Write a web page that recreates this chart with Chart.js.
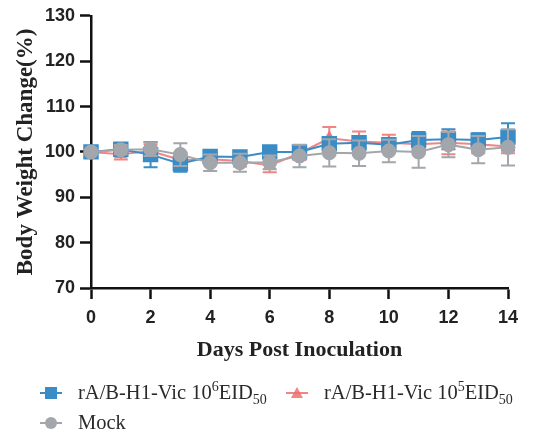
<!DOCTYPE html>
<html>
<head>
<meta charset="utf-8">
<script src="https://cdn.jsdelivr.net/npm/chart.js@4.4.1/dist/chart.umd.min.js"></script>
<style>
  body { margin: 0; background: #fff; }
  #wrap { position: relative; width: 540px; height: 432px; }
  #legend { position: absolute; left: 0; top: 0; width: 540px; height: 432px; pointer-events: none;
            font-family: "Liberation Serif", "Times New Roman", serif; font-size: 20.5px; color: #2a2a2a; }
  .item { position: absolute; display: flex; align-items: center; white-space: nowrap; }
  .item svg { margin-right: 16px; }
  sup, sub { font-size: 14px; line-height: 0; }
</style>
</head>
<body>
<div id="wrap">
  <canvas id="bwChart" width="540" height="432"></canvas>
  <div id="legend"></div>
</div>
<script>
// days post inoculation
const days = [0, 1, 2, 3, 4, 5, 6, 7, 8, 9, 10, 11, 12, 13, 14];

// rA/B-H1-Vic 10^6 EID50
const highDoseMean = [100, 100.6, 99.4, 97.4, 99.0, 98.9, 100.0, 100.0, 101.8, 102.0, 101.6, 102.6, 102.8, 102.6, 103.3];
const highDoseSd   = [0, 0.8, 2.8, 1.8, 0.8, 0.8, 0.8, 0.8, 1.2, 1.5, 1.2, 1.8, 2.2, 1.5, 3.0];

// rA/B-H1-Vic 10^5 EID50
const lowDoseMean = [100, 99.5, 100.2, 98.2, 98.4, 98.0, 97.0, 99.7, 103.0, 102.3, 102.0, 101.7, 102.0, 101.7, 101.2];
const lowDoseSd   = [0, 1.2, 1.5, 1.5, 1.0, 1.2, 1.5, 1.5, 2.5, 2.2, 1.8, 1.5, 2.5, 2.0, 1.5];

// Mock
const mockMean = [100, 100.5, 100.6, 99.4, 97.6, 97.6, 97.7, 99.1, 99.8, 99.7, 100.2, 100.0, 101.6, 100.5, 101.0];
const mockSd   = [0, 1.0, 1.5, 2.5, 1.8, 2.0, 1.5, 2.5, 3.0, 2.8, 2.5, 3.5, 2.8, 3.0, 4.0];

const BLUE = "#3a8cc6";
const RED = "rgba(240,110,110,0.85)";
const GRAY = "#a3a6ab";

function toPoints(mean) {
    return days.map((d, i) => ({ x: d, y: mean[i] }));
}

// draw SD error bars just before each dataset draws its own line and markers
const errorBarPlugin = {
    id: "errorBars",
    beforeDatasetDraw(chart, args) {
        const ds = chart.data.datasets[args.index];
        if (!ds.sd) return;
        const ctx = chart.ctx;
        const xs = chart.scales.x;
        const ys = chart.scales.y;
        ctx.save();
        ctx.strokeStyle = ds.borderColor;
        ctx.lineWidth = 2;
        for (var i = 0; i < ds.data.length; i++) {
            const sd = ds.sd[i];
            if (!sd) continue;
            const px = xs.getPixelForValue(ds.data[i].x);
            const top = ys.getPixelForValue(ds.data[i].y + sd);
            const bottom = ys.getPixelForValue(ds.data[i].y - sd);
            ctx.beginPath();
            ctx.moveTo(px, top);
            ctx.lineTo(px, bottom);
            ctx.moveTo(px - 7, top);
            ctx.lineTo(px + 7, top);
            ctx.moveTo(px - 7, bottom);
            ctx.lineTo(px + 7, bottom);
            ctx.stroke();
        }
        ctx.restore();
    }
};

const datasets = [
    {
        label: "Mock",
        data: toPoints(mockMean),
        sd: mockSd,
        borderColor: GRAY,
        backgroundColor: GRAY,
        pointStyle: "circle",
        pointRadius: 6.5,
        borderWidth: 2,
        clip: false,
        order: 0
    },
    {
        label: "rA/B-H1-Vic 10^6 EID50",
        data: toPoints(highDoseMean),
        sd: highDoseSd,
        borderColor: BLUE,
        backgroundColor: BLUE,
        pointStyle: "rect",
        pointRadius: 9.5,
        borderWidth: 2,
        clip: false,
        order: 1
    },
    {
        label: "rA/B-H1-Vic 10^5 EID50",
        data: toPoints(lowDoseMean),
        sd: lowDoseSd,
        borderColor: RED,
        backgroundColor: RED,
        pointStyle: "triangle",
        pointRadius: 6,
        borderWidth: 2,
        clip: false,
        order: 2
    }
];

const tickFont = { family: "'Liberation Sans', Arial, sans-serif", size: 18, weight: "bold" };
const xTitleFont = { family: "'Liberation Serif', 'Times New Roman', serif", size: 22, weight: "bold" };
const yTitleFont = { family: "'Liberation Serif', 'Times New Roman', serif", size: 23, weight: "bold" };

new Chart(document.getElementById("bwChart").getContext("2d"), {
    type: "line",
    data: { datasets: datasets },
    plugins: [errorBarPlugin],
    options: {
        responsive: false,
        animation: false,
        devicePixelRatio: 1,
        layout: { padding: { top: 14, right: 32, left: 0, bottom: 64 } },
        plugins: { legend: { display: false }, tooltip: { enabled: false } },
        elements: { line: { tension: 0 }, point: { borderWidth: 1 } },
        scales: {
            x: {
                type: "linear",
                min: 0,
                max: 14,
                afterFit(scale) { scale.height = 80; },
                border: { color: "#111", width: 2.5 },
                grid: { drawOnChartArea: false, tickLength: 11, tickColor: "#111", tickWidth: 2.5 },
                ticks: { stepSize: 2, color: "#222", font: tickFont, padding: 8 },
                title: { display: true, text: "Days Post Inoculation", color: "#222", font: xTitleFont, padding: { top: 0, bottom: 4.8 } }
            },
            y: {
                min: 70,
                max: 130,
                afterFit(scale) { scale.width = 91; },
                border: { color: "#111", width: 2.5 },
                grid: { drawOnChartArea: false, tickLength: 11, tickColor: "#111", tickWidth: 2.5 },
                ticks: { stepSize: 10, color: "#222", font: tickFont, padding: 5 },
                title: { display: true, text: "Body Weight Change(%)", color: "#222", font: yTitleFont, padding: { top: 12.7, bottom: 0 } }
            }
        }
    }
});

// legend built as html so the super/subscripts stay real text
function markerSvg(color, shape) {
    var mark = "";
    if (shape === "rect") mark = '<rect x="5" y="2" width="12" height="12" fill="' + color + '"/>';
    if (shape === "triangle") mark = '<polygon points="11,2 17,13 5,13" fill="' + color + '"/>';
    if (shape === "circle") mark = '<circle cx="11" cy="8" r="6" fill="' + color + '"/>';
    return '<svg width="22" height="16"><line x1="0" y1="8" x2="22" y2="8" stroke="' + color + '" stroke-width="2"/>' + mark + '</svg>';
}
const legendItems = [
    { left: 40, top: 381, color: BLUE, shape: "rect", html: "rA/B-H1-Vic 10<sup>6</sup>EID<sub>50</sub>" },
    { left: 286, top: 381, color: RED, shape: "triangle", html: "rA/B-H1-Vic 10<sup>5</sup>EID<sub>50</sub>" },
    { left: 40, top: 411, color: GRAY, shape: "circle", html: "Mock" }
];
document.getElementById("legend").innerHTML = legendItems.map(it =>
    '<div class="item" style="left:' + it.left + 'px;top:' + it.top + 'px">' + markerSvg(it.color, it.shape) + '<span>' + it.html + '</span></div>'
).join("");
</script>
</body>
</html>
